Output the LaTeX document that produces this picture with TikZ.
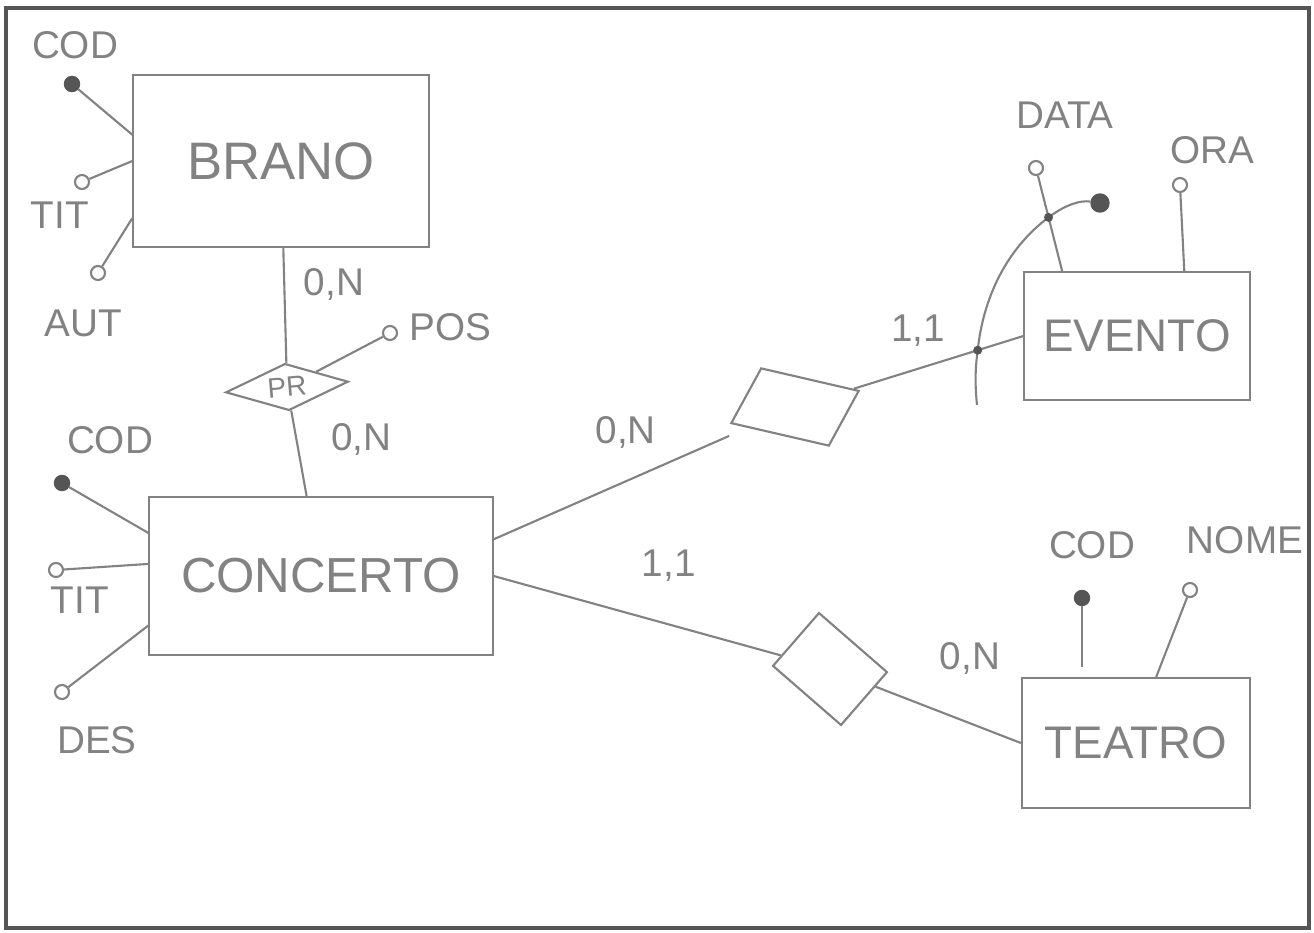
\documentclass[tikz,border=0pt]{standalone}
\usepackage{fontspec}
\setmainfont{Liberation Sans}
\usepackage{xcolor}
\usepackage{tikz}
\usetikzlibrary{shapes.geometric, positioning, calc}

\definecolor{pencil}{RGB}{130,130,130}
\definecolor{lead}{RGB}{85,85,85}

\begin{document}
\begin{tikzpicture}[
    x=0.01cm, y=-0.01cm,
    entity/.style={rectangle, draw=pencil, semithick, text=pencil, font=\fontsize{15}{18}\selectfont},
    relation/.style={draw=pencil, semithick, inner sep=0pt, text=pencil},
    attr/.style={circle, draw=pencil, semithick, fill=white, inner sep=0pt, minimum size=0.14cm},
    keyattr/.style={circle, draw=lead, fill=lead, inner sep=0pt, minimum size=0.15cm},
    joint/.style={circle, fill=lead, inner sep=0pt, minimum size=0.09cm},
    attrname/.style={text=pencil, font=\fontsize{11}{13}\selectfont, inner sep=1pt},
    card/.style={text=pencil, font=\fontsize{11}{13}\selectfont, inner sep=1pt},
    link/.style={draw=pencil, semithick}
]

% Sheet
\useasboundingbox (0,0) rectangle (1314,933);
\draw[lead, line width=1pt] (6,8) rectangle (1309,928);

% Entities
\node[entity, minimum width=2.95cm, minimum height=1.72cm] (brano) at (281,161) {BRANO};
\node[entity, minimum width=3.43cm, minimum height=1.58cm, font=\fontsize{14}{17}\selectfont] (concerto) at (321,576) {CONCERTO};
\node[entity, minimum width=2.25cm, minimum height=1.28cm, font=\fontsize{13}{16}\selectfont] (evento) at (1137,336) {EVENTO};
\node[entity, minimum width=2.28cm, minimum height=1.30cm, font=\fontsize{13}{16}\selectfont] (teatro) at (1136,743) {TEATRO};

% Relationships
\node[relation, diamond, aspect=2.6, minimum width=1.23cm, minimum height=0.47cm, rotate=5, font=\fontsize{8}{9}\selectfont] (pr) at (287,387) {PR};
\node[relation, rectangle, minimum width=1.0cm, minimum height=0.6cm, rotate=-13, xslant=0.28] (relev) at (795,407) {};
\node[relation, rectangle, minimum width=0.9cm, minimum height=0.7cm, rotate=-41] (relte) at (830,669) {};

% Links with cardinalities
\draw[link] (brano) -- (pr) node[card, pos=0.32, right=0.15cm] (cbpr) {0,N};
\draw[link] (pr) -- (concerto) node[card, pos=0.34, right=0.3cm] (cprco) {0,N};
\draw[link, shorten >=0.2cm] (concerto.12) -- (relev) node[card, pos=0.52, above=0.28cm] (ccoev) {0,N};
\draw[link] (relev) -- (evento.west) node[card, pos=0.38, above=0.18cm] (cevev) {1,1};
\draw[link] (concerto.east) -- (relte) node[card, pos=0.61, above=0.38cm] (ccote) {1,1};
\draw[link] (relte) -- (teatro.west) node[card, pos=0.65, above=0.44cm] (ctete) {0,N};

% BRANO attributes
\node[keyattr] (bcod) at (72,84) {};
\node[attrname] (bcodn) at (75,45) {COD};
\draw[link] (bcod) -- (brano.170);
\node[attr] (btit) at (82,182) {};
\node[attrname] (btitn) at (60,215) {TIT};
\draw[link] (btit) -- (brano.180);
\node[attr] (baut) at (98,273) {};
\node[attrname] (bautn) at (83,323) {AUT};
\draw[link] (baut) -- (brano.201);

% PR attribute
\node[attr] (pos) at (390,333) {};
\node[attrname, anchor=west] (posn) at (405,327) {POS};
\draw[link] (pr) -- (pos);

% CONCERTO attributes
\node[keyattr] (ccod) at (62,483) {};
\node[attrname] (ccodn) at (110,440) {COD};
\draw[link] (ccod) -- (concerto.166);
\node[attr] (ctit) at (56,570) {};
\node[attrname] (ctitn) at (80,600) {TIT};
\draw[link] (ctit) -- (concerto.176);
\node[attr] (cdes) at (62,692) {};
\node[attrname] (cdesn) at (97,740) {DES};
\draw[link] (cdes) -- (concerto.196);

% EVENTO attributes
\node[attr] (data) at (1036,168) {};
\node[attrname] (datan) at (1065,115) {DATA};
\draw[link] (data) -- (evento.139);
\node[attr] (ora) at (1180,185) {};
\node[attrname] (oran) at (1212,150) {ORA};
\draw[link] (ora) -- (evento.54);

% external identifier of EVENTO
\coordinate (jrel) at ($(relev)!0.8!(evento.west)$);
\coordinate (jdata) at ($(data)!0.48!(evento.139)$);
\coordinate (idlow) at (977,405);
\node[keyattr, minimum size=0.18cm] (eid) at (1100,203) {};
\draw[link] (idlow) .. controls (975,385) and (975,370) .. (jrel)
    .. controls (983,300) and (1005,250) .. (jdata)
    .. controls (1065,205) and (1080,200) .. (eid);
\node[joint] (jreldot) at (jrel) {};
\node[joint] (jdatadot) at (jdata) {};

% TEATRO attributes
\node[keyattr] (tcod) at (1082,598) {};
\node[attrname] (tcodn) at (1092,545) {COD};
\draw[link, shorten >=0.1cm] (tcod) -- (tcod |- teatro.north);
\node[attr] (nome) at (1190,590) {};
\node[attrname] (nomen) at (1245,540) {NOME};
\draw[link] (nome) -- (teatro.73);

\end{tikzpicture}
\end{document}
